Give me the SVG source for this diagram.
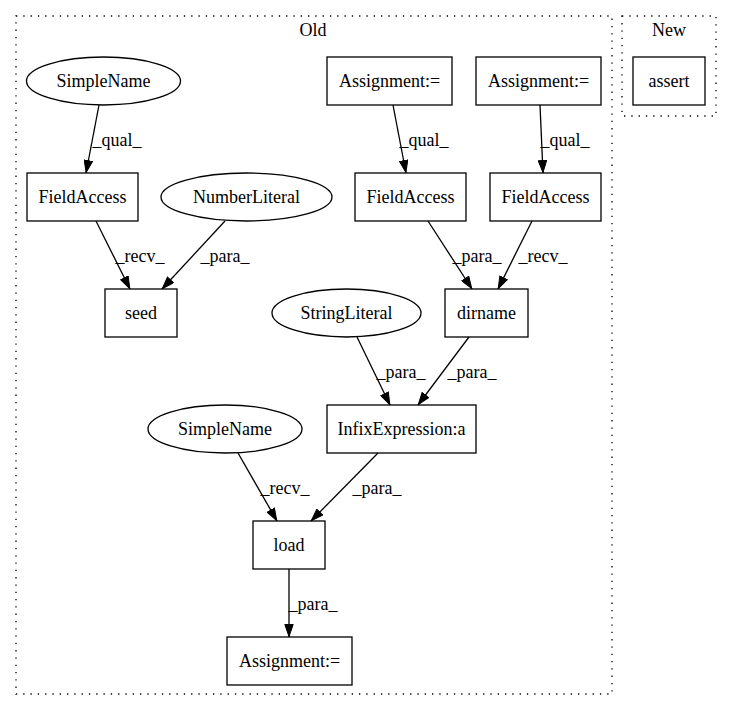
<svg xmlns="http://www.w3.org/2000/svg" width="732" height="712" viewBox="0 0 732 712">
<style>
text{font-family:"Liberation Serif","Times New Roman",serif;font-size:18px;fill:#000;text-anchor:middle}
.n{fill:none;stroke:#000;stroke-width:1.3}
.cl{fill:none;stroke:#000;stroke-width:1.3;stroke-dasharray:1.3,6}
.e{fill:none;stroke:#000;stroke-width:1.3;marker-end:url(#arr)}
</style>
<defs>
<marker id="arr" viewBox="0 0 13 9.4" refX="13" refY="4.7" markerWidth="13" markerHeight="9.4" markerUnits="userSpaceOnUse" orient="auto">
<path d="M0.5,0.5 L12.5,4.7 L0.5,8.9 z" fill="#000" stroke="#000"/>
</marker>
</defs>
<rect width="732" height="712" fill="#fff"/>
<g id="cluster_old">
<rect class="cl" x="16" y="16" width="596" height="678"/>
<text x="313" y="36">Old</text>
</g>
<g id="cluster_new">
<rect class="cl" x="622" y="16" width="94" height="100"/>
<text x="669" y="36">New</text>
</g>
<g id="edges">
<line class="e" x1="99" y1="105" x2="86" y2="173"/>
<text x="117" y="146">_qual_</text>
<line class="e" x1="393" y1="105" x2="406" y2="173"/>
<text x="424" y="146">_qual_</text>
<line class="e" x1="540" y1="105" x2="543" y2="173"/>
<text x="565" y="146">_qual_</text>
<line class="e" x1="96" y1="221" x2="130" y2="289"/>
<text x="140" y="262">_recv_</text>
<line class="e" x1="225" y1="221" x2="162" y2="289"/>
<text x="225" y="262">_para_</text>
<line class="e" x1="428" y1="221" x2="472" y2="289"/>
<text x="477" y="262">_para_</text>
<line class="e" x1="532" y1="221" x2="498" y2="289"/>
<text x="543" y="262">_recv_</text>
<line class="e" x1="357" y1="337" x2="390" y2="405"/>
<text x="401" y="378">_para_</text>
<line class="e" x1="469" y1="337" x2="418" y2="405"/>
<text x="472" y="378">_para_</text>
<line class="e" x1="238" y1="453" x2="277" y2="521"/>
<text x="285" y="494">_recv_</text>
<line class="e" x1="378" y1="453" x2="311" y2="521"/>
<text x="377" y="494">_para_</text>
<line class="e" x1="289" y1="569" x2="289" y2="637"/>
<text x="313" y="610">_para_</text>
</g>
<g id="simplename1"><ellipse class="n" cx="103.5" cy="81" rx="77" ry="24"/><text x="103.5" y="87">SimpleName</text></g>
<g id="fieldaccess1"><rect class="n" x="27" y="173" width="111" height="48"/><text x="82.5" y="203">FieldAccess</text></g>
<g id="numberliteral"><ellipse class="n" cx="246.5" cy="197" rx="85.5" ry="24"/><text x="246.5" y="203">NumberLiteral</text></g>
<g id="assignment1"><rect class="n" x="327" y="57" width="125" height="48"/><text x="389.5" y="87">Assignment:=</text></g>
<g id="assignment2"><rect class="n" x="476" y="57" width="125" height="48"/><text x="538.5" y="87">Assignment:=</text></g>
<g id="fieldaccess2"><rect class="n" x="355" y="173" width="111" height="48"/><text x="410.5" y="203">FieldAccess</text></g>
<g id="fieldaccess3"><rect class="n" x="490" y="173" width="111" height="48"/><text x="545.5" y="203">FieldAccess</text></g>
<g id="assert"><rect class="n" x="633" y="57" width="72" height="48"/><text x="669" y="87">assert</text></g>
<g id="seed"><rect class="n" x="105" y="289" width="72" height="48"/><text x="141" y="319">seed</text></g>
<g id="stringliteral"><ellipse class="n" cx="346.5" cy="313" rx="74.5" ry="24"/><text x="346.5" y="319">StringLiteral</text></g>
<g id="dirname"><rect class="n" x="445" y="289" width="83" height="48"/><text x="486.5" y="319">dirname</text></g>
<g id="infix"><rect class="n" x="327" y="405" width="149" height="48"/><text x="401.5" y="435">InfixExpression:a</text></g>
<g id="simplename2"><ellipse class="n" cx="225" cy="429" rx="77" ry="24"/><text x="225" y="435">SimpleName</text></g>
<g id="load"><rect class="n" x="253" y="521" width="72" height="48"/><text x="289" y="551">load</text></g>
<g id="assignment3"><rect class="n" x="227" y="637" width="125" height="48"/><text x="289.5" y="667">Assignment:=</text></g>
</svg>
